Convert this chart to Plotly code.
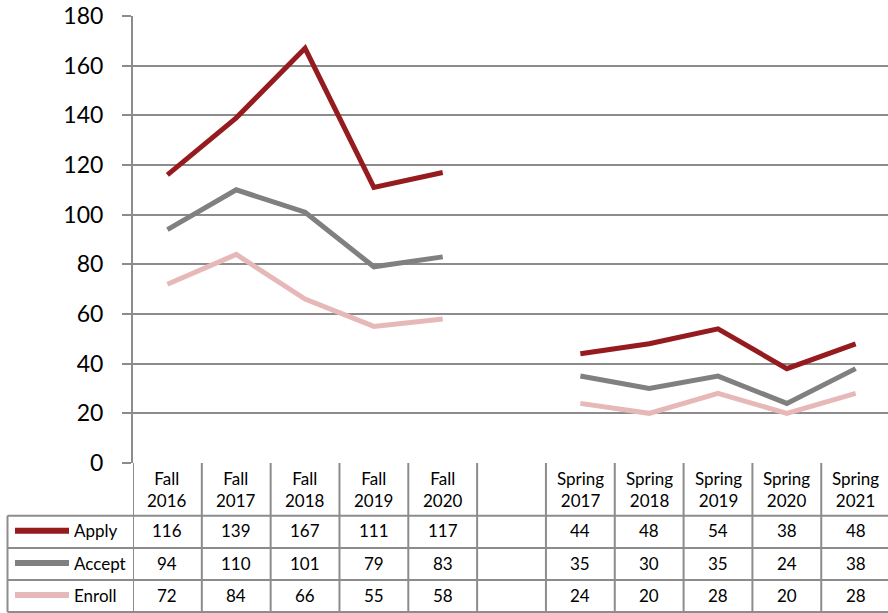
import plotly.graph_objects as go

# Term labels (the blank slot separates fall and spring terms)
term_top = ["Fall", "Fall", "Fall", "Fall", "Fall", "",
            "Spring", "Spring", "Spring", "Spring", "Spring"]
term_year = ["2016", "2017", "2018", "2019", "2020", "",
             "2017", "2018", "2019", "2020", "2021"]

series_names = ["Apply", "Accept", "Enroll"]
apply_vals = [116, 139, 167, 111, 117, None, 44, 48, 54, 38, 48]
accept_vals = [94, 110, 101, 79, 83, None, 35, 30, 35, 24, 38]
enroll_vals = [72, 84, 66, 55, 58, None, 24, 20, 28, 20, 28]
series_colors = ["#951B1E", "#808080", "#E6B9B8"]

y_ticks = [0, 20, 40, 60, 80, 100, 120, 140, 160, 180]

W, H = 888, 613
ML, MR, MT, MB = 133, 0, 16, 150
PW, PH = W - ML - MR, H - MT - MB
FONT = "Lato, Noto Sans, sans-serif"
GRID = "#8C8C8C"

n = len(term_top)
x_idx = list(range(n))
x_lo = -0.5
x_hi = n - 0.5 - 0.03


def px_x(px):
    return (px - ML) / PW


def px_y(py):
    return (H - MB - py) / PH


fig = go.Figure()
all_vals = [apply_vals, accept_vals, enroll_vals]
for name, vals, col in zip(series_names, all_vals, series_colors):
    fig.add_trace(go.Scatter(
        x=x_idx, y=vals, mode="lines", name=name,
        line=dict(color=col, width=5), connectgaps=False,
        hoverinfo="skip", showlegend=False,
    ))

shapes = []
annotations = []

# Data table rows (pixel rows below the plot area)
header_top, row_lines = 463, [515.7, 548, 580, 612]
line_style = dict(color=GRID, width=2)

# vertical column separators of the table
for i in range(n):
    shapes.append(dict(type="line", xref="x", yref="paper",
                       x0=i - 0.5, x1=i - 0.5,
                       y0=px_y(header_top), y1=px_y(row_lines[-1]),
                       line=line_style))
# left border of the legend column
shapes.append(dict(type="line", xref="paper", yref="paper",
                   x0=px_x(7.5), x1=px_x(7.5),
                   y0=px_y(row_lines[0]), y1=px_y(row_lines[-1]),
                   line=line_style))
# horizontal row separators
for ry in row_lines:
    shapes.append(dict(type="line", xref="paper", yref="paper",
                       x0=px_x(7.5), x1=1.0, y0=px_y(ry), y1=px_y(ry),
                       line=line_style))

# header labels
for i in range(n):
    if term_top[i]:
        annotations.append(dict(
            x=i, y=px_y((header_top + row_lines[0]) / 2), xref="x", yref="paper",
            text=f"{term_top[i]}<br>{term_year[i]}", showarrow=False,
            font=dict(family=FONT, size=17, color="#000"),
            xanchor="center", yanchor="middle", align="center"))

# legend keys and values
for r, (name, vals, col) in enumerate(zip(series_names, all_vals, series_colors)):
    cy = (row_lines[r] + row_lines[r + 1]) / 2 - 1
    shapes.append(dict(type="line", xref="paper", yref="paper",
                       x0=px_x(15), x1=px_x(69), y0=px_y(cy), y1=px_y(cy),
                       line=dict(color=col, width=6)))
    annotations.append(dict(
        x=px_x(72), y=px_y(cy), xref="paper", yref="paper", text=name,
        showarrow=False, font=dict(family=FONT, size=17, color="#000"),
        xanchor="left", yanchor="middle"))
    for i, v in enumerate(vals):
        if v is None:
            continue
        annotations.append(dict(
            x=i, y=px_y(cy), xref="x", yref="paper", text=str(v),
            showarrow=False, font=dict(family=FONT, size=17, color="#000"),
            xanchor="center", yanchor="middle"))

fig.update_layout(
    width=W, height=H,
    margin=dict(l=ML, r=MR, t=MT, b=MB, pad=0),
    paper_bgcolor="white", plot_bgcolor="white",
    shapes=shapes, annotations=annotations,
    xaxis=dict(range=[x_lo, x_hi], showgrid=False, zeroline=False,
               showticklabels=False, ticks="", showline=False, fixedrange=True),
    yaxis=dict(range=[0, 180], tickvals=y_ticks, showgrid=True,
               gridcolor=GRID, gridwidth=2, zeroline=False,
               showline=True, linecolor=GRID, linewidth=2,
               ticks="outside", ticklen=9, tickcolor=GRID, tickwidth=2,
               ticklabelstandoff=14,
               tickfont=dict(family=FONT, size=23, color="#000")),
)

fig.write_html("out.html")
